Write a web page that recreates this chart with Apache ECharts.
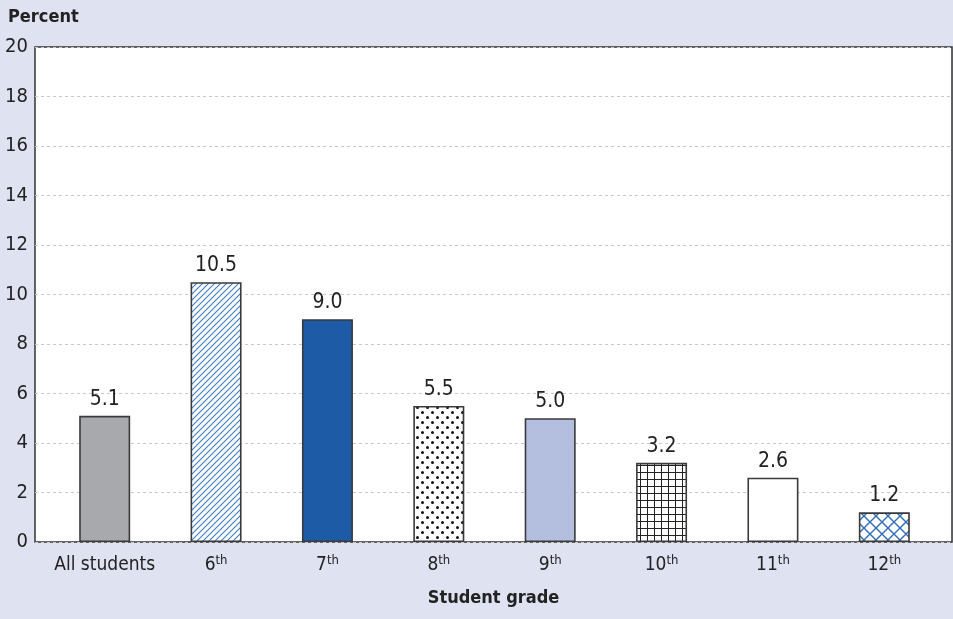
<!DOCTYPE html>
<html><head><meta charset="utf-8">
<script src="https://cdn.jsdelivr.net/npm/echarts@6/dist/echarts.min.js"></script>
<style>html,body{margin:0;padding:0;background:#dfe2f1;}#c{width:953px;height:619px;}</style>
</head><body><div id="c"></div>
<script>
var categories = ['All students', '6th', '7th', '8th', '9th', '10th', '11th', '12th'];
var values = [5.1, 10.5, 9.0, 5.5, 5.0, 3.2, 2.6, 1.2];
var yTicks = [0, 2, 4, 6, 8, 10, 12, 14, 16, 18, 20];

var FONT = "'Liberation Sans Narrow', 'DejaVu Sans Condensed', 'Arial Narrow', sans-serif";

function mk(w, h, draw) {
  var c = document.createElement('canvas'); c.width = w; c.height = h;
  var g = c.getContext('2d'); g.fillStyle = '#fff'; g.fillRect(0, 0, w, h); draw(g, w, h);
  return { image: c, repeat: 'repeat' };
}
var stripes = mk(6, 6, function (g, w, h) {
  g.strokeStyle = '#3a7cc9'; g.lineWidth = 1.1;
  for (var k = -1; k <= 1; k++) {
    g.beginPath(); g.moveTo(k * w - 1, h + 1); g.lineTo(k * w + w + 1, -1); g.stroke();
  }
});
var dots = mk(10, 10, function (g) {
  g.fillStyle = '#111';
  [[2.5, 2.5], [7.5, 7.5]].forEach(function (p) {
    g.beginPath(); g.arc(p[0], p[1], 1.5, 0, Math.PI * 2); g.fill();
  });
});
var gridPat = mk(7, 7, function (g) {
  g.fillStyle = '#222';
  g.fillRect(3, 0, 1, 7); g.fillRect(0, 3, 7, 1);
});
var cross = mk(12, 12, function (g, w, h) {
  g.strokeStyle = '#2e6db5'; g.lineWidth = 1.4;
  g.beginPath(); g.moveTo(0, 0); g.lineTo(w, h); g.moveTo(w, 0); g.lineTo(0, h); g.stroke();
});
var fills = ['#a7a9ac', stripes, '#1e5ba7', dots, '#b4bfdf', gridPat, '#ffffff', cross];

var barData = values.map(function (v, i) {
  return { value: v, itemStyle: { color: fills[i] } };
});

var chart = echarts.init(document.getElementById('c'), null, { renderer: 'canvas' });
chart.setOption({
  backgroundColor: '#dfe2f1',
  animation: false,
  textStyle: { fontFamily: FONT },
  grid: [
    { left: 35, right: 1, top: 47, bottom: 77, show: true, backgroundColor: '#ffffff', borderColor: '#333', borderWidth: 1.5, containLabel: false },
    { left: 49, right: 13, top: 47, bottom: 77, containLabel: false }
  ],
  xAxis: [
    { gridIndex: 0, type: 'value', min: 0, max: 1, show: true,
      axisLine: { show: false }, axisTick: { show: false }, axisLabel: { show: false }, splitLine: { show: false },
      name: 'Student grade', nameLocation: 'middle', nameGap: 47,
      nameTextStyle: { fontFamily: FONT, fontSize: 18, fontWeight: 'bold', color: '#222' } },
    { gridIndex: 1, type: 'category', data: categories,
      axisLine: { show: false }, axisTick: { show: false },
      axisLabel: { interval: 0, margin: 12, color: '#222', fontSize: 19, fontFamily: FONT,
        formatter: function (v) {
          var m = v.match(/^(\d+)(th)$/);
          return m ? '{a|' + m[1] + '}{s|' + m[2] + '}' : '{a|' + v + '}';
        },
        rich: {
          a: { fontSize: 19, fontFamily: FONT, color: '#222', lineHeight: 22 },
          s: { fontSize: 13, fontFamily: FONT, color: '#222', verticalAlign: 'top', lineHeight: 22, padding: [0, 0, 6, 0] }
        } } }
  ],
  yAxis: [
    { gridIndex: 0, type: 'value', min: 0, max: 20, interval: 2,
      axisLine: { show: false }, axisTick: { show: false },
      axisLabel: { margin: 7, color: '#222', fontSize: 20, fontFamily: FONT },
      splitLine: { show: true, lineStyle: { color: '#c8c8c8', type: [3, 3], width: 1 } } },
    { gridIndex: 1, type: 'value', min: 0, max: 20, show: false, splitLine: { show: false } }
  ],
  series: [{
    type: 'bar', xAxisIndex: 1, yAxisIndex: 1, data: barData, barWidth: 51,
    itemStyle: { borderColor: '#3a3a3a', borderWidth: 1.6 },
    label: { show: true, position: 'top', distance: 6, color: '#222', fontSize: 21, fontFamily: FONT,
      formatter: function (p) { return p.value.toFixed(1); } }
  }],
  graphic: [{ type: 'text', left: 8, top: 8, style: { text: 'Percent', font: 'bold 18px ' + FONT, fill: '#222' } }]
});
</script>
</body></html>
